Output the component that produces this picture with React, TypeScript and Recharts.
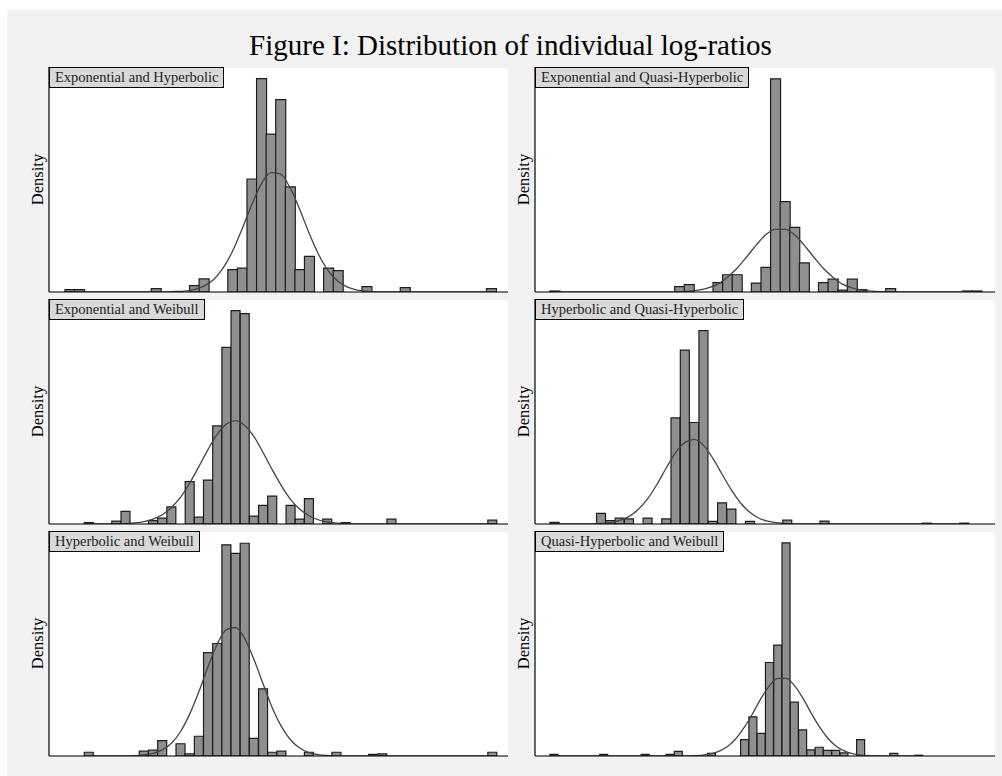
import React from "react";
import {
  ComposedChart,
  Bar,
  Line,
  XAxis,
  YAxis,
  CartesianGrid,
} from "recharts";

// bin midpoints, in bin-width units (45 bins per histogram)
const binMids = [
  0.5, 1.5, 2.5, 3.5, 4.5, 5.5, 6.5, 7.5, 8.5, 9.5, 10.5, 11.5, 12.5, 13.5, 14.5,
  15.5, 16.5, 17.5, 18.5, 19.5, 20.5, 21.5, 22.5, 23.5, 24.5, 25.5, 26.5, 27.5, 28.5,
  29.5, 30.5, 31.5, 32.5, 33.5, 34.5, 35.5, 36.5, 37.5, 38.5, 39.5, 40.5, 41.5, 42.5,
  43.5, 44.5,
];

// bar heights (density, in grid-line units)
const expHypBars = [
  0.05, 0.05, 0, 0, 0, 0, 0, 0, 0, 0.07, 0, 0, 0, 0.13, 0.27, 0, 0, 0.46, 0.49, 2.32,
  4.38, 3.24, 3.95, 2.16, 0.46, 0.73, 0, 0.49, 0.44, 0, 0, 0.11, 0, 0, 0, 0.09, 0, 0,
  0, 0, 0, 0, 0, 0, 0.07,
];
const expHypCurve = [
  0, 0, 0, 0, 0, 0, 0, 0, 0, 0, 0, 0.01, 0.02, 0.05, 0.12, 0.25, 0.49, 0.84, 1.3, 1.79,
  2.22, 2.45, 2.42, 2.14, 1.7, 1.2, 0.76, 0.43, 0.22, 0.1, 0.04, 0.015, 0, 0, 0, 0, 0,
  0, 0, 0, 0, 0, 0, 0, 0,
];

const expQhBars = [
  0.02, 0, 0, 0, 0, 0, 0, 0, 0, 0, 0, 0, 0, 0.11, 0.15, 0, 0, 0.19, 0.35, 0.35, 0, 0.18,
  0.5, 4.32, 1.83, 1.31, 0.59, 0, 0.19, 0.26, 0.04, 0.26, 0.05, 0, 0, 0.07, 0, 0, 0, 0,
  0, 0, 0, 0.02, 0.02,
];
const expQhCurve = [
  0, 0, 0, 0, 0, 0, 0, 0, 0, 0, 0, 0, 0, 0.006, 0.016, 0.038, 0.083, 0.16, 0.3, 0.48,
  0.71, 0.95, 1.16, 1.27, 1.27, 1.16, 0.95, 0.71, 0.48, 0.3, 0.16, 0.083, 0.038, 0.016,
  0.006, 0, 0, 0, 0, 0, 0, 0, 0, 0, 0,
];

const expWeiBars = [
  0.03, 0, 0, 0.06, 0.26, 0, 0, 0.07, 0.12, 0.35, 0, 0.87, 0.14, 0.9, 2.01, 3.62, 4.37,
  4.31, 0.16, 0.38, 0.57, 0, 0.38, 0.1, 0.52, 0, 0.1, 0, 0.03, 0, 0, 0, 0, 0.1, 0, 0,
  0, 0, 0, 0, 0, 0, 0, 0, 0.08,
];
const expWeiCurve = [
  0, 0, 0, 0.004, 0.009, 0.022, 0.048, 0.1, 0.19, 0.34, 0.55, 0.84, 1.18, 1.53, 1.84,
  2.05, 2.12, 2.02, 1.79, 1.46, 1.11, 0.78, 0.5, 0.3, 0.17, 0.087, 0.041, 0.018, 0.007,
  0, 0, 0, 0, 0, 0, 0, 0, 0, 0, 0, 0, 0, 0, 0, 0,
];

const hypQhBars = [
  0.04, 0, 0, 0, 0, 0.25, 0.08, 0.14, 0.12, 0, 0.14, 0, 0.12, 2.51, 4.11, 2.4, 4.57,
  0.06, 0.5, 0.35, 0, 0.06, 0, 0, 0, 0.09, 0, 0, 0, 0.07, 0, 0, 0, 0, 0, 0, 0, 0, 0, 0,
  0.02, 0, 0, 0, 0.02,
];
const hypQhCurve = [
  0, 0, 0, 0, 0.005, 0.013, 0.035, 0.084, 0.18, 0.35, 0.6, 0.94, 1.33, 1.69, 1.93, 2.0,
  1.86, 1.55, 1.17, 0.8, 0.49, 0.27, 0.13, 0.06, 0.025, 0.009, 0, 0, 0, 0, 0, 0, 0, 0,
  0, 0, 0, 0, 0, 0, 0, 0, 0, 0, 0,
];

const hypWeiBars = [
  0.07, 0, 0, 0, 0, 0, 0.09, 0.11, 0.29, 0, 0.23, 0.04, 0.37, 1.94, 2.11, 3.96, 3.8,
  3.99, 0.33, 1.26, 0.07, 0.09, 0, 0, 0.07, 0, 0, 0.07, 0, 0, 0, 0.03, 0.04, 0, 0, 0,
  0, 0, 0, 0, 0, 0, 0, 0, 0.07,
];
const hypWeiCurve = [
  0, 0, 0, 0, 0, 0.007, 0.019, 0.049, 0.115, 0.24, 0.46, 0.79, 1.21, 1.68, 2.1, 2.37,
  2.41, 2.2, 1.81, 1.35, 0.9, 0.55, 0.3, 0.15, 0.064, 0.026, 0.009, 0, 0, 0, 0, 0, 0, 0,
  0, 0, 0, 0, 0, 0, 0, 0, 0, 0, 0,
];

const qhWeiBars = [
  0.03, 0, 0, 0, 0, 0, 0.03, 0, 0, 0, 0, 0.03, 0, 0, 0.03, 0.09, 0, 0, 0, 0.05, 0, 0, 0,
  0.32, 0.76, 0.44, 1.82, 2.16, 4.15, 1.05, 0.51, 0.12, 0.17, 0.11, 0.11, 0.06, 0, 0.32,
  0, 0, 0, 0.05, 0, 0, 0.015,
];
const qhWeiCurve = [
  0, 0, 0, 0, 0, 0, 0, 0, 0, 0, 0, 0, 0, 0, 0, 0, 0, 0.007, 0.019, 0.045, 0.1, 0.195,
  0.35, 0.57, 0.84, 1.13, 1.37, 1.51, 1.51, 1.37, 1.13, 0.84, 0.57, 0.35, 0.195, 0.1,
  0.045, 0.019, 0.007, 0, 0, 0, 0, 0, 0,
];

const FONT = "'Liberation Serif', 'Times New Roman', serif";
const PLOT_H = 225;
const AXIS_W = 24;

const panels = [
  { title: "Exponential and Hyperbolic", bars: expHypBars, curve: expHypCurve, left: 49, top: 67, width: 459, xDomain: [-1.67, 46.25], yMax: 4.62, grid: [1, 2, 3, 4] },
  { title: "Exponential and Quasi-Hyperbolic", bars: expQhBars, curve: expQhCurve, left: 535, top: 67, width: 460, xDomain: [-1.56, 46.4], yMax: 4.56, grid: [1, 2, 3, 4] },
  { title: "Exponential and Weibull", bars: expWeiBars, curve: expWeiCurve, left: 49, top: 299, width: 459, xDomain: [-3.85, 46.2], yMax: 4.61, grid: [1, 2, 3, 4] },
  { title: "Hyperbolic and Quasi-Hyperbolic", bars: hypQhBars, curve: hypQhCurve, left: 535, top: 299, width: 460, xDomain: [-1.61, 47.8], yMax: 5.32, grid: [1, 2, 3, 4, 5] },
  { title: "Hyperbolic and Weibull", bars: hypWeiBars, curve: hypWeiCurve, left: 49, top: 531, width: 459, xDomain: [-3.85, 46.2], yMax: 4.22, grid: [1, 2, 3, 4] },
  { title: "Quasi-Hyperbolic and Weibull", bars: qhWeiBars, curve: qhWeiCurve, left: 535, top: 531, width: 460, xDomain: [-1.81, 53.7], yMax: 4.38, grid: [1, 2, 3, 4] },
];

type PanelProps = (typeof panels)[number];

const Panel = ({ title, bars, curve, left, top, width, xDomain, yMax, grid }: PanelProps) => {
  const data = binMids.map((x, i) => ({ x, h: bars[i], c: curve[i] }));
  return (
    <>
      <div style={{ position: "absolute", left: left - AXIS_W, top }}>
        <ComposedChart
          width={width + AXIS_W}
          height={PLOT_H + 2}
          data={data}
          margin={{ top: 0, right: 0, bottom: 1, left: 0 }}
          barCategoryGap={0}
          barGap={0}
        >
          <CartesianGrid vertical={false} fill="#ffffff" stroke="#e9e9e9" strokeWidth={1} />
          <XAxis
            type="number"
            dataKey="x"
            domain={xDomain}
            allowDataOverflow
            height={1}
            tick={false}
            tickLine={false}
            axisLine={{ stroke: "#000", strokeWidth: 1.2 }}
          />
          <YAxis
            type="number"
            domain={[0, yMax]}
            ticks={grid}
            allowDataOverflow
            width={AXIS_W}
            tick={false}
            tickLine={false}
            axisLine={{ stroke: "#000", strokeWidth: 1.2 }}
            label={{ value: "Density", angle: -90, position: "center", fill: "#000", fontSize: 16.5, fontFamily: FONT }}
          />
          <Bar dataKey="h" fill="#8f8f8f" stroke="#1e1e1e" strokeWidth={1.2} isAnimationActive={false} />
          <Line
            dataKey="c"
            type="monotone"
            stroke="#444444"
            strokeWidth={1.3}
            dot={false}
            activeDot={false}
            isAnimationActive={false}
          />
        </ComposedChart>
      </div>
      <div
        style={{
          position: "absolute",
          left,
          top,
          height: 21,
          boxSizing: "border-box",
          border: "1px solid #000",
          background: "#d9d9d9",
          padding: "0 5px",
          lineHeight: "19px",
          fontSize: 14.5,
          color: "#222",
          whiteSpace: "nowrap",
        }}
      >
        {title}
      </div>
    </>
  );
};

export default function App() {
  return (
    <div style={{ position: "relative", width: 1002, height: 776, fontFamily: FONT, background: "#fff" }}>
      <style>{`body{margin:0}`}</style>
      <div style={{ position: "absolute", left: 7, top: 10, right: 0, bottom: 0, background: "#f2f2f2" }} />
      <div
        style={{
          position: "absolute",
          left: 19,
          right: 0,
          top: 31,
          textAlign: "center",
          fontSize: 29,
          lineHeight: "29px",
          color: "#000",
        }}
      >
        Figure I: Distribution of individual log-ratios
      </div>
      {panels.map((p) => (
        <Panel key={p.title} {...p} />
      ))}
    </div>
  );
}
